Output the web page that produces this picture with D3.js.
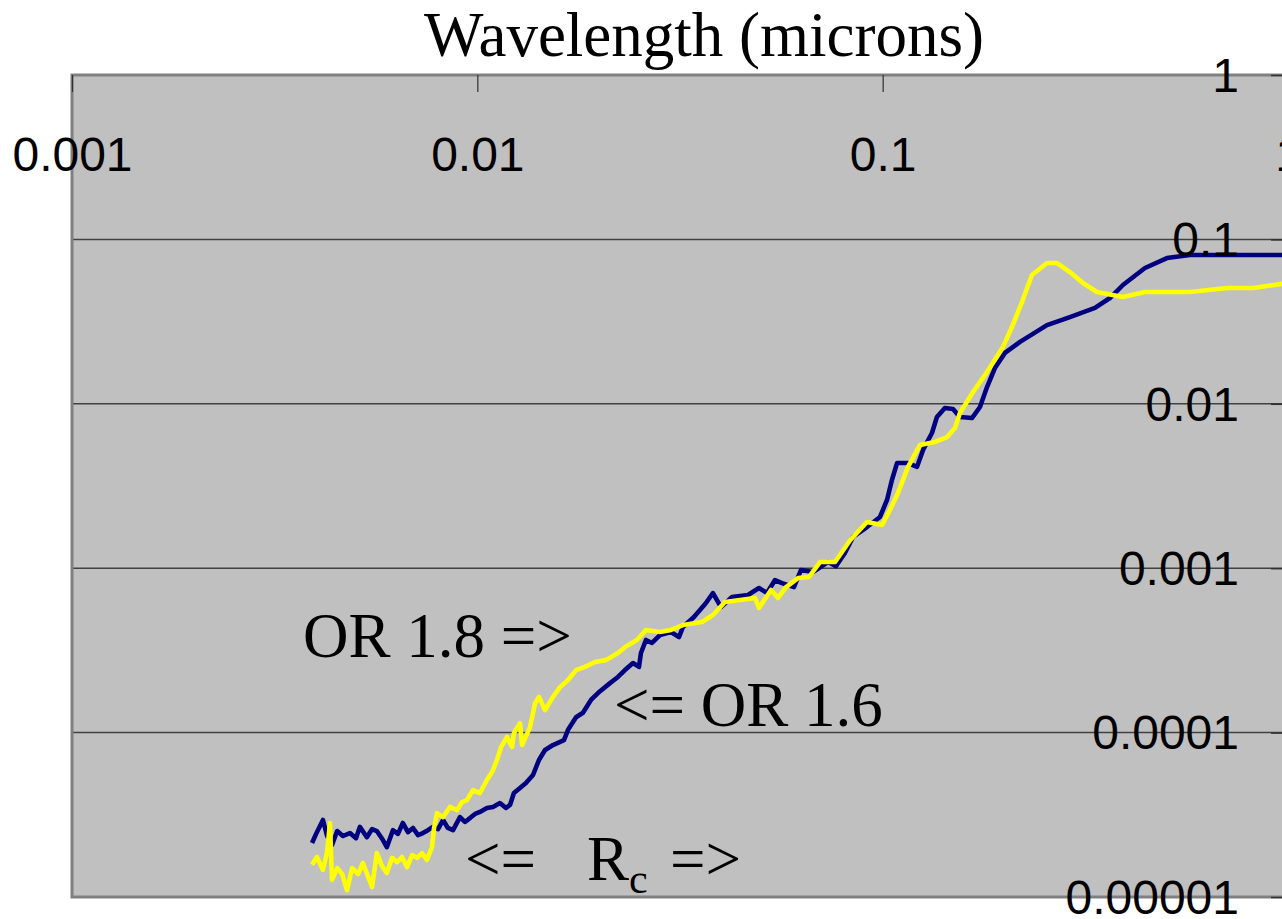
<!DOCTYPE html>
<html><head><meta charset="utf-8">
<script src="https://cdn.jsdelivr.net/npm/d3@7"></script>
<style>body{margin:0;background:#fff;overflow:hidden}</style>
</head><body><svg id="c" width="1282" height="919"></svg>
<script>
// ---- data (wavelength in microns, value) ----
const wavelengthOR16 = [0.00391,0.00402,0.00416,0.00426,0.00438,0.00451,0.00466,0.00485,0.00502,0.00513,
0.00534,0.0055,0.00565,0.00585,0.00598,0.00619,0.00637,0.00655,0.00674,0.00694,
0.00714,0.00734,0.00755,0.00777,0.0080,0.00823,0.00846,0.00871,0.00906,0.00932,
0.00959,0.00987,0.01015,0.01056,0.01093,0.01137,0.01177,0.01204,0.01231,0.01274,
0.01318,0.01372,0.01419,0.01469,0.01537,0.01636,0.01674,0.01752,0.01822,0.01907,
0.01984,0.02125,0.02223,0.02313,0.02421,0.02505,0.02533,0.02606,0.02697,0.02822,
0.03004,0.03144,0.03216,0.03423,0.03665,0.03813,0.03991,0.04249,0.04653,0.04953,
0.05184,0.05425,0.05645,0.0604,0.06285,0.0673,0.0733,0.0767,0.0807,0.0845,
0.0915,0.0985,0.1025,0.1054,0.1085,0.1155,0.1215,0.1258,0.1323,0.1361,
0.1424,0.1491,0.1551,0.1661,0.1738,0.1809,0.1892,0.2003,0.2182,0.2543,
0.2897,0.334,0.3637,0.3915,0.4437,0.5027,0.573,1.0];
const valueOR16 = [2.13e-5,2.48e-5,2.94e-5,2.35e-5,2.07e-5,2.52e-5,2.35e-5,2.45e-5,2.28e-5,2.67e-5,
2.31e-5,2.59e-5,2.52e-5,2.22e-5,2.01e-5,2.55e-5,2.42e-5,2.82e-5,2.48e-5,2.63e-5,
2.38e-5,2.45e-5,2.55e-5,2.67e-5,2.59e-5,2.94e-5,2.63e-5,2.55e-5,3.06e-5,2.86e-5,
3.02e-5,3.20e-5,3.29e-5,3.48e-5,3.53e-5,3.73e-5,3.48e-5,3.63e-5,4.29e-5,4.60e-5,
4.93e-5,5.52e-5,6.81e-5,7.83e-5,8.40e-5,9.01e-5,1.04e-4,1.24e-4,1.32e-4,1.58e-4,
1.74e-4,2.00e-4,2.18e-4,2.40e-4,2.65e-4,2.51e-4,3.05e-4,3.66e-4,3.51e-4,3.92e-4,
4.09e-4,3.81e-4,4.39e-4,5.05e-4,6.14e-4,7.06e-4,5.80e-4,6.68e-4,6.87e-4,7.58e-4,
7.06e-4,8.47e-4,8.12e-4,7.68e-4,9.75e-4,9.48e-4,1.09e-3,1.03e-3,1.24e-3,1.55e-3,
1.78e-3,2.05e-3,2.60e-3,3.44e-3,4.36e-3,4.36e-3,4.13e-3,5.24e-3,6.64e-3,8.31e-3,
9.43e-3,9.30e-3,8.31e-3,8.19e-3,9.56e-3,0.01265,0.0165,0.0204,0.0238,0.0301,
0.0337,0.0383,0.0440,0.0528,0.0670,0.0770,0.0804,0.0804];

const wavelengthOR18 = [0.00391,0.00402,0.00416,0.00426,0.00433,0.00438,0.00451,0.00464,0.00477,0.00491,
0.00508,0.00522,0.00537,0.0055,0.00565,0.00582,0.00598,0.00616,0.00634,0.00652,
0.00671,0.0069,0.0071,0.0073,0.00751,0.00773,0.00782,0.00795,0.00823,0.00856,
0.00891,0.00917,0.00943,0.00976,0.01015,0.01056,0.01087,0.01118,0.01144,0.01184,
0.01218,0.01231,0.01274,0.01289,0.01349,0.01388,0.01419,0.01469,0.01537,0.0160,
0.01674,0.01752,0.01843,0.01951,0.02077,0.02223,0.02313,0.02477,0.02606,0.02822,
0.03004,0.03216,0.03584,0.03813,0.04083,0.04446,0.04842,0.04953,0.05304,0.05519,
0.05775,0.06183,0.0658,0.07005,0.0763,0.0831,0.0915,0.0996,0.1042,0.1091,
0.1155,0.1236,0.1346,0.1441,0.1508,0.1551,0.1671,0.1809,0.1981,0.2084,
0.2207,0.2335,0.2543,0.2692,0.2897,0.312,0.3379,0.3915,0.4437,0.573,
0.707,0.8195,1.0];
const valueOR18 = [1.57e-5,1.75e-5,1.46e-5,1.88e-5,2.82e-5,1.27e-5,1.50e-5,1.38e-5,1.10e-5,1.50e-5,
1.38e-5,1.61e-5,1.34e-5,1.15e-5,1.85e-5,1.54e-5,1.40e-5,1.73e-5,1.63e-5,1.75e-5,
1.52e-5,1.80e-5,1.73e-5,1.85e-5,1.68e-5,2.01e-5,2.63e-5,3.24e-5,3.06e-5,3.53e-5,
3.38e-5,3.78e-5,3.89e-5,4.47e-5,4.29e-5,5.15e-5,5.75e-5,6.81e-5,8.17e-5,9.40e-5,
8.17e-5,9.94e-5,1.14e-4,8.40e-5,1.08e-4,1.51e-4,1.65e-4,1.37e-4,1.65e-4,1.89e-4,
2.09e-4,2.40e-4,2.51e-4,2.69e-4,2.76e-4,3.05e-4,3.31e-4,3.66e-4,4.21e-4,4.09e-4,
4.21e-4,4.51e-4,4.71e-4,5.19e-4,6.23e-4,6.40e-4,6.59e-4,5.73e-4,7.37e-4,6.59e-4,
7.68e-4,8.71e-4,8.84e-4,1.09e-3,1.09e-3,1.48e-3,1.91e-3,1.83e-3,2.26e-3,2.87e-3,
4.13e-3,5.62e-3,5.86e-3,6.28e-3,7.12e-3,8.79e-3,0.0118,0.0156,0.0222,0.0293,
0.0416,0.0607,0.0718,0.0718,0.0633,0.0543,0.0479,0.0446,0.0479,0.0479,
0.0506,0.0506,0.0543];

const xTicks = [0.001, 0.01, 0.1, 1];
const xTickLabels = ["0.001", "0.01", "0.1", "1"];
const yTicks = [1, 0.1, 0.01, 0.001, 0.0001, 0.00001];
const yTickLabels = ["1", "0.1", "0.01", "0.001", "0.0001", "0.00001"];
const titleText = "Wavelength (microns)";

// ---- drawing ----
const svg = d3.select("#c");
const L = 72, R = 1288, T = 75, B = 897;
const x = d3.scaleLog().domain([0.001, 1]).range([L, R]);
const y = d3.scaleLog().domain([0.00001, 1]).range([B, T]);

svg.append("rect").attr("width", 1282).attr("height", 919).attr("fill", "#fff");
svg.append("rect").attr("x", L).attr("y", T).attr("width", R - L).attr("height", B - T).attr("fill", "#c0c0c0");

// gridlines
svg.append("g").selectAll("line").data(yTicks.filter(v => v < 1 && v > 0.00001)).join("line")
  .attr("x1", L).attr("x2", R).attr("y1", d => y(d)).attr("y2", d => y(d))
  .attr("stroke", "#404040").attr("stroke-width", 1.5);

const line = d3.line().x(d => x(d[0])).y(d => y(d[1]));
const s16 = wavelengthOR16.map((w, i) => [w, valueOR16[i]]);
const s18 = wavelengthOR18.map((w, i) => [w, valueOR18[i]]);
svg.append("path").datum(s16).attr("d", line).attr("fill", "none")
  .attr("stroke", "#000080").attr("stroke-width", 4.6).attr("stroke-linejoin", "round");
svg.append("path").datum(s18).attr("d", line).attr("fill", "none")
  .attr("stroke", "#ffff00").attr("stroke-width", 4.6).attr("stroke-linejoin", "round");

// border
svg.append("rect").attr("x", L).attr("y", T).attr("width", R - L).attr("height", B - T)
  .attr("fill", "none").attr("stroke", "#808080").attr("stroke-width", 3);

// top x axis (ticks inward)
const xa = svg.append("g").attr("transform", `translate(0,${T})`)
  .call(d3.axisTop(x).tickValues(xTicks).tickSize(-17).tickFormat((d, i) => xTickLabels[i]));
xa.select(".domain").remove();
xa.selectAll(".tick line").attr("stroke", "#303030").attr("stroke-width", 1.2);
xa.selectAll(".tick text").attr("y", 96).attr("dy", 0).attr("fill", "#000")
  .style("font-family", "'Liberation Sans', Arial, sans-serif").style("font-size", "48px");

// right y axis (ticks inward)
const ya = svg.append("g").attr("transform", `translate(${R},0)`)
  .call(d3.axisRight(y).tickValues(yTicks).tickSize(-17).tickFormat((d, i) => yTickLabels[i]));
ya.select(".domain").remove();
ya.selectAll(".tick line").attr("stroke", "#303030").attr("stroke-width", 1.5);
ya.selectAll(".tick text").attr("x", -49).attr("dy", "0.34em").attr("text-anchor", "end").attr("fill", "#000")
  .style("font-family", "'Liberation Sans', Arial, sans-serif").style("font-size", "48px");

// title
const serif = "'Liberation Serif', 'Times New Roman', serif";
svg.append("text").attr("x", 704).attr("y", 56).attr("text-anchor", "middle")
  .style("font-family", serif).style("font-size", "63px").text(titleText);

// annotations
svg.append("text").attr("x", 303).attr("y", 657).style("font-family", serif).style("font-size", "63px").text("OR 1.8 =>");
svg.append("text").attr("x", 614).attr("y", 726).style("font-family", serif).style("font-size", "63px").text("<= OR 1.6");
const rc = svg.append("text").attr("y", 880).style("font-family", serif).style("font-size", "63px");
rc.append("tspan").attr("x", 465).text("<=");
rc.append("tspan").attr("x", 587).text("R");
rc.append("tspan").attr("dy", 13).style("font-size", "42px").text("c");
rc.append("tspan").attr("x", 670).attr("y", 880).text("=>");
</script></body></html>
